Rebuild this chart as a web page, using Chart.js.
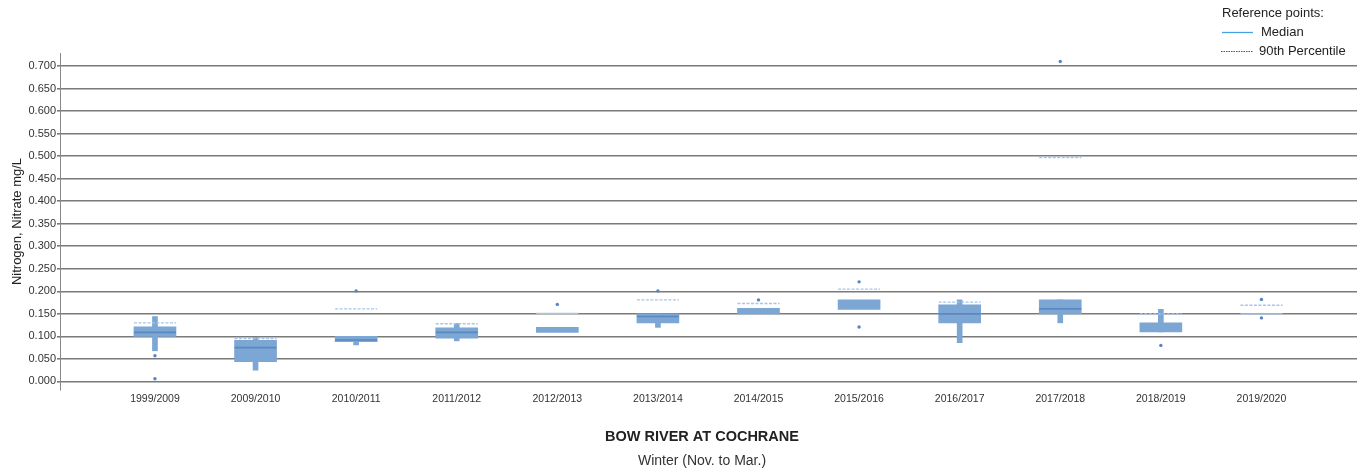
<!DOCTYPE html>
<html>
<head>
<meta charset="utf-8">
<script src="https://cdn.jsdelivr.net/npm/chart.js@4.4.0/dist/chart.umd.min.js"></script>
<style>
  html, body { margin: 0; padding: 0; background: #fff; }
  #wrap { width: 1367px; height: 472px; position: relative; }
</style>
</head>
<body>
<div id="wrap"><canvas id="c" width="1367" height="472"></canvas></div>
<script>
// Winter seasons sampled at the station
const seasons = ['1999/2009', '2009/2010', '2010/2011', '2011/2012', '2012/2013', '2013/2014',
                 '2014/2015', '2015/2016', '2016/2017', '2017/2018', '2018/2019', '2019/2020'];

// Box statistics (mg/L); null where a season has no box / no such value
const q1          = [0.100, 0.044, 0.088, 0.096, 0.109, 0.130, 0.150, 0.160, 0.130, 0.150, 0.110, null];
const q3          = [0.121, 0.091, 0.100, 0.119, 0.120, 0.150, 0.162, 0.181, 0.170, 0.181, 0.130, null];
const medians     = [0.109, 0.075, 0.092, 0.109, null, 0.144, null, null, 0.150, 0.161, null, null];
const whiskerLow  = [0.068, 0.025, 0.081, 0.090, null, 0.120, null, null, 0.086, 0.130, 0.110, null];
const whiskerHigh = [0.144, 0.098, 0.100, 0.129, null, 0.150, null, null, 0.181, 0.181, 0.160, null];

// Reference points
const refMedian = [null, null, null, null, 0.151, null, null, null, null, null, null, 0.150];
const ref90th   = [0.130, 0.095, 0.161, 0.128, null, 0.181, 0.173, 0.205, 0.176, 0.497, 0.150, 0.169];

// Individual samples outside the whiskers
const outliers = [[0.057, 0.006], [], [0.201], [], [0.171], [0.201], [0.181], [0.221, 0.121], [], [0.710], [0.080], [0.182, 0.141]];

// Y axis tick values
const yTicks = [0, 0.05, 0.10, 0.15, 0.20, 0.25, 0.30, 0.35, 0.40, 0.45, 0.50, 0.55, 0.60, 0.65, 0.70];

const BOX_HALF = 0.209; // half box width in category units

function rangeData(lo, hi) {
  const out = [];
  seasons.forEach((s, i) => {
    if (lo[i] != null && hi[i] != null) out.push({ x: i, y: [lo[i], hi[i]] });
  });
  return out;
}
function segmentData(vals) {
  const out = [];
  vals.forEach((v, i) => {
    if (v == null) return;
    out.push({ x: i - BOX_HALF, y: v }, { x: i + BOX_HALF, y: v }, { x: i, y: null });
  });
  return out;
}
function outlierData() {
  const out = [];
  outliers.forEach((list, i) => list.forEach(v => out.push({ x: i, y: v })));
  return out;
}

const BOX_COLOR = 'rgb(124,166,212)';
const MEDIAN_COLOR = 'rgb(92,136,192)';
const REF_COLOR = 'rgb(165,198,234)';
const DOT_COLOR = 'rgb(84,132,196)';
const FONT = '"Liberation Sans", Arial, sans-serif';

const decorations = {
  id: 'decorations',
  afterDraw(chart) {
    const ctx = chart.ctx;
    ctx.save();
    // chart title and subtitle
    ctx.textAlign = 'center';
    ctx.textBaseline = 'middle';
    ctx.fillStyle = '#222';
    ctx.font = 'bold 14.5px ' + FONT;
    ctx.fillText('BOW RIVER AT COCHRANE', 702, 437);
    ctx.fillStyle = '#333';
    ctx.font = '14px ' + FONT;
    ctx.fillText('Winter (Nov. to Mar.)', 702, 461);

    // reference-point key
    ctx.textAlign = 'left';
    ctx.fillStyle = '#222';
    ctx.font = '13px ' + FONT;
    ctx.fillText('Reference points:', 1222, 13);
    ctx.fillText('Median', 1261, 32);
    ctx.fillText('90th Percentile', 1259, 51);
    ctx.strokeStyle = 'rgb(70,160,225)';
    ctx.lineWidth = 1.3;
    ctx.beginPath(); ctx.moveTo(1222, 32.5); ctx.lineTo(1253, 32.5); ctx.stroke();
    ctx.strokeStyle = '#555';
    ctx.lineWidth = 1.2;
    ctx.setLineDash([1.5, 1]);
    ctx.beginPath(); ctx.moveTo(1221, 51.5); ctx.lineTo(1253, 51.5); ctx.stroke();
    ctx.restore();
  }
};

new Chart(document.getElementById('c'), {
  data: {
    datasets: [
      {
        type: 'scatter', label: 'Outliers', data: outlierData(), order: 0,
        pointRadius: 1.7, pointBackgroundColor: DOT_COLOR, pointBorderWidth: 0
      },
      {
        type: 'line', label: 'Median', data: segmentData(medians), order: 1,
        borderColor: MEDIAN_COLOR, borderWidth: 1.6, pointRadius: 0, spanGaps: false
      },
      {
        type: 'line', label: 'Reference median', data: segmentData(refMedian), order: 2,
        borderColor: REF_COLOR, borderWidth: 1.3, pointRadius: 0, spanGaps: false
      },
      {
        type: 'line', label: 'Reference 90th percentile', data: segmentData(ref90th), order: 2,
        borderColor: REF_COLOR, borderWidth: 1.4, borderDash: [3, 1.5], pointRadius: 0, spanGaps: false
      },
      {
        type: 'bar', label: 'Box', data: rangeData(q1, q3), order: 3,
        backgroundColor: BOX_COLOR, borderWidth: 0, barThickness: 42, grouped: false
      },
      {
        type: 'bar', label: 'Whisker', data: rangeData(whiskerLow, whiskerHigh), order: 4,
        backgroundColor: BOX_COLOR, borderWidth: 0, barThickness: 5, grouped: false
      }
    ]
  },
  options: {
    responsive: false,
    animation: false,
    events: [],
    layout: { padding: { left: 0, right: 10, top: 53, bottom: 0 } },
    plugins: {
      legend: { display: false },
      tooltip: { enabled: false }
    },
    scales: {
      x: {
        type: 'linear',
        offset: false,
        min: -0.944,
        max: 11.95,
        afterFit(scale) { scale.height = 82; },
        afterBuildTicks(scale) { scale.ticks = seasons.map((s, i) => ({ value: i })); },
        grid: { display: false, drawTicks: false, offset: false },
        border: { display: false },
        ticks: {
          autoSkip: false, maxRotation: 0, padding: 3,
          color: '#333', font: { family: FONT, size: 10.5 },
          callback: (v) => seasons[v]
        }
      },
      y: {
        type: 'linear',
        min: -0.019,
        max: 0.729,
        afterFit(scale) { scale.width = 60; },
        afterBuildTicks(scale) { scale.ticks = yTicks.map(v => ({ value: v })); },
        grid: { color: '#7a7a7a', lineWidth: 1.6, tickLength: 3 },
        border: { color: '#888', width: 1 },
        ticks: {
          padding: 1, color: '#333', font: { family: FONT, size: 11 },
          callback: (v) => v.toFixed(3)
        },
        title: {
          display: true, text: 'Nitrogen, Nitrate mg/L', color: '#222',
          font: { family: FONT, size: 13 }, padding: { top: 10, bottom: 0 }
        }
      }
    }
  },
  plugins: [decorations]
});
</script>
</body>
</html>
